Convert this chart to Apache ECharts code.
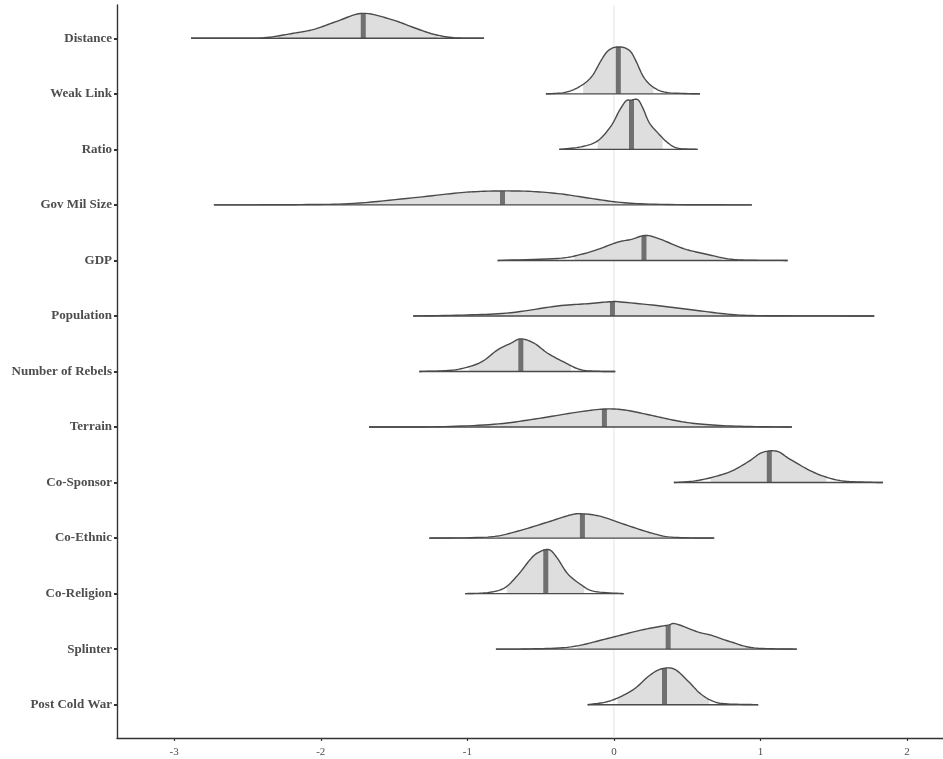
<!DOCTYPE html>
<html><head><meta charset="utf-8">
<script src="https://cdn.jsdelivr.net/npm/echarts@6/dist/echarts.min.js"></script>
<style>html,body{margin:0;padding:0;background:#fff}#c{width:943px;height:759px}</style>
</head><body><div id="c"></div>
<script>
const categories = ['Distance','Weak Link','Ratio','Gov Mil Size','GDP','Population','Number of Rebels','Terrain','Co-Sponsor','Co-Ethnic','Co-Religion','Splinter','Post Cold War'];
const xTicks = [-3, -2, -1, 0, 1, 2];
const medians = [-1.71, 0.03, 0.12, -0.76, 0.205, -0.01, -0.635, -0.065, 1.06, -0.215, -0.465, 0.37, 0.345];
const intervalLow  = [-2.29, -0.21, -0.111, -1.855, -0.27, -0.93, -0.987, -0.95, 0.66, -0.793, -0.73, -0.25, 0.025];
const intervalHigh = [-1.20, 0.27, 0.332, 0.19, 0.73, 0.84, -0.293, 0.75, 1.45, 0.366, -0.203, 0.98, 0.65];
const densityX = [
  [-2.885,-2.6,-2.387,-2.203,-2.046,-1.885,-1.714,-1.521,-1.362,-1.228,-1.091,-0.887],
  [-0.464,-0.341,-0.246,-0.157,-0.089,-0.048,-0.007,0.034,0.075,0.116,0.150,0.205,0.273,0.368,0.587],
  [-0.373,-0.225,-0.111,-0.020,0.036,0.082,0.116,0.162,0.196,0.241,0.298,0.366,0.435,0.571],
  [-2.729,-2.135,-1.774,-1.378,-1.064,-0.907,-0.750,-0.566,-0.362,-0.157,0.048,0.321,0.941],
  [-0.793,-0.384,-0.225,-0.111,0.025,0.116,0.218,0.321,0.480,0.639,0.776,0.912,1.185],
  [-1.369,-0.998,-0.703,-0.384,-0.179,-0.020,0.048,0.321,0.593,0.821,1.048,1.776],
  [-1.328,-1.158,-1.044,-0.907,-0.793,-0.703,-0.634,-0.544,-0.452,-0.339,-0.225,-0.089,0.009],
  [-1.671,-1.2,-0.819,-0.539,-0.259,-0.068,0.075,0.246,0.437,0.607,0.859,1.214],
  [0.409,0.580,0.778,0.914,1.010,1.112,1.194,1.334,1.446,1.582,1.835],
  [-1.26,-0.862,-0.680,-0.452,-0.293,-0.214,-0.089,0.093,0.275,0.411,0.684],
  [-1.016,-0.862,-0.748,-0.657,-0.566,-0.510,-0.441,-0.384,-0.316,-0.225,-0.134,0.066],
  [-0.805,-0.566,-0.293,-0.043,0.184,0.366,0.423,0.571,0.662,0.798,0.957,1.248],
  [-0.179,-0.066,0.025,0.138,0.241,0.321,0.411,0.503,0.593,0.684,0.776,0.984]
];
const densityH = [
  [0,0.002,0.01,0.083,0.162,0.311,0.45,0.342,0.19,0.072,0.011,0],
  [0,0.023,0.113,0.293,0.594,0.755,0.827,0.845,0.827,0.755,0.594,0.293,0.113,0.023,0],
  [0,0.045,0.153,0.42,0.692,0.872,0.885,0.896,0.752,0.482,0.302,0.122,0.022,0],
  [0,0.005,0.027,0.126,0.216,0.243,0.252,0.243,0.198,0.117,0.045,0.009,0],
  [0,0.036,0.108,0.198,0.329,0.378,0.45,0.378,0.209,0.108,0.029,0.005,0],
  [0,0.018,0.059,0.18,0.221,0.257,0.252,0.18,0.09,0.023,0.005,0],
  [0,0.013,0.049,0.167,0.39,0.509,0.588,0.509,0.329,0.167,0.031,0.002,0],
  [0,0.005,0.049,0.144,0.264,0.324,0.306,0.216,0.108,0.049,0.013,0],
  [0,0.041,0.18,0.371,0.54,0.563,0.432,0.221,0.1,0.023,0],
  [0,0.018,0.108,0.288,0.419,0.437,0.39,0.228,0.077,0.013,0],
  [0,0.018,0.101,0.329,0.63,0.748,0.791,0.63,0.36,0.162,0.041,0],
  [0,0.005,0.041,0.192,0.342,0.432,0.455,0.311,0.252,0.131,0.023,0],
  [0,0.041,0.12,0.282,0.522,0.642,0.642,0.432,0.192,0.054,0.013,0]
];

function catmull(pts, steps) {
  const out = [];
  for (let i = 0; i < pts.length - 1; i++) {
    const p0 = pts[Math.max(0, i - 1)], p1 = pts[i], p2 = pts[i + 1], p3 = pts[Math.min(pts.length - 1, i + 2)];
    for (let s = 0; s < steps; s++) {
      const t = s / steps, t2 = t * t, t3 = t2 * t;
      const f = (a, b, c, d) => 0.5 * ((2 * b) + (-a + c) * t + (2 * a - 5 * b + 4 * c - d) * t2 + (-a + 3 * b - 3 * c + d) * t3);
      out.push([f(p0[0], p1[0], p2[0], p3[0]), f(p0[1], p1[1], p2[1], p3[1])]);
    }
  }
  out.push(pts[pts.length - 1].slice());
  return out;
}
function yAt(dense, px) {
  for (let i = 0; i < dense.length - 1; i++) {
    const a = dense[i], b = dense[i + 1];
    if (px >= a[0] && px <= b[0]) {
      const t = b[0] === a[0] ? 0 : (px - a[0]) / (b[0] - a[0]);
      return a[1] + t * (b[1] - a[1]);
    }
  }
  return dense[dense.length - 1][1];
}

function renderRidge(params, api) {
  const idx = api.value(0);
  const unit = api.size([0, 1])[1];
  const baseY = api.coord([0, idx])[1];
  const xs = densityX[idx], hs = densityH[idx];
  const pts = xs.map((x, j) => [api.coord([x, idx])[0], baseY - hs[j] * unit]);
  const dense = catmull(pts, 10).map(p => [p[0], Math.min(p[1], baseY)]);
  const loPx = api.coord([intervalLow[idx], idx])[0];
  const hiPx = api.coord([intervalHigh[idx], idx])[0];
  const fill = [[loPx, baseY], [loPx, yAt(dense, loPx)]];
  dense.forEach(p => { if (p[0] > loPx && p[0] < hiPx) fill.push(p); });
  fill.push([hiPx, yAt(dense, hiPx)], [hiPx, baseY]);
  const mPx = api.coord([medians[idx], idx])[0];
  return {
    type: 'group',
    children: [
      { type: 'polygon', shape: { points: fill }, style: { fill: '#dedede', stroke: null } },
      { type: 'line', shape: { x1: mPx, y1: baseY, x2: mPx, y2: yAt(dense, mPx) }, style: { stroke: '#707070', lineWidth: 5 } },
      { type: 'polyline', shape: { points: dense }, style: { fill: null, stroke: '#4a4a4a', lineWidth: 1.4, lineJoin: 'round' } },
      { type: 'line', shape: { x1: pts[0][0], y1: baseY, x2: pts[pts.length - 1][0], y2: baseY }, style: { stroke: '#4a4a4a', lineWidth: 1.4 } }
    ]
  };
}

const chart = echarts.init(document.getElementById('c'), null, { renderer: 'canvas' });
chart.setOption({
  animation: false,
  backgroundColor: '#ffffff',
  grid: { left: 117, right: 0, top: 5, bottom: 21, containLabel: false, outerBoundsMode: 'none' },
  xAxis: {
    type: 'value', min: -3.39, max: 2.245,
    axisLine: { show: true, onZero: false, lineStyle: { color: '#333333', width: 1.4 } },
    axisTick: { show: true, length: 3, customValues: xTicks, lineStyle: { color: '#333333', width: 1.2 } },
    axisLabel: { customValues: xTicks, margin: 9, fontFamily: 'Liberation Serif', fontSize: 11, color: '#4d4d4d', formatter: v => String(v) },
    splitLine: { show: false }
  },
  yAxis: {
    type: 'value', min: -0.6, max: 12.6, inverse: true,
    axisLine: { show: true, onZero: false, lineStyle: { color: '#333333', width: 1.4 } },
    axisTick: { show: true, length: 3, customValues: categories.map((c, i) => i), lineStyle: { color: '#333333', width: 2 } },
    axisLabel: { customValues: categories.map((c, i) => i), margin: 5, fontFamily: 'Liberation Serif', fontWeight: 'bold', fontSize: 13, color: '#4d4d4d', formatter: v => categories[Math.round(v)] },
    splitLine: { show: false }
  },
  series: [
    { type: 'line', silent: true, z: 1, symbol: 'none', data: [[0, -0.6], [0, 12.6]], lineStyle: { color: '#e3e3e3', width: 1 } },
    { type: 'custom', z: 2, silent: true, renderItem: renderRidge, encode: { y: 0 }, data: categories.map((c, i) => [i]) }
  ]
});
</script>
</body></html>
